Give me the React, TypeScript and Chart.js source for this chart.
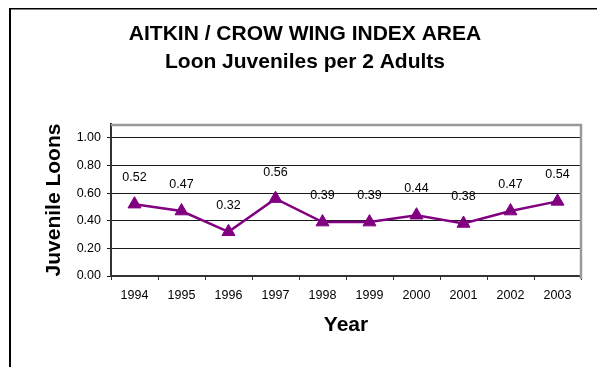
import React, { useEffect, useRef } from "react";
import { Chart, registerables } from "chart.js";

Chart.register(...registerables);

// Survey years and juvenile loons per two adults
const years: string[] = ["1994", "1995", "1996", "1997", "1998", "1999", "2000", "2001", "2002", "2003"];
const juvenilesPerPair: number[] = [0.52, 0.47, 0.32, 0.56, 0.39, 0.39, 0.44, 0.38, 0.47, 0.54];

const titleLines: string[] = ["AITKIN / CROW WING INDEX AREA", "Loon Juveniles per 2 Adults"];
const yAxisTitle = "Juvenile Loons";
const xAxisTitle = "Year";

const FONT = '"Liberation Sans", Arial, Helvetica, sans-serif';
const LINE_COLOR = "#800080";

// Frame around the chart and the two-line heading
const framePlugin = {
  id: "frameAndHeading",
  beforeDraw(chart: Chart) {
    const { ctx } = chart;
    ctx.save();
    ctx.fillStyle = "#ffffff";
    ctx.fillRect(0, 0, chart.width, chart.height);
    ctx.fillStyle = "#000000";
    ctx.fillRect(9, 8, 2, chart.height);
    ctx.fillRect(9, 8, chart.width, 1.5);
    ctx.restore();
  },
  afterDraw(chart: Chart) {
    const { ctx } = chart;
    ctx.save();
    ctx.fillStyle = "#000000";
    ctx.font = `bold 21px ${FONT}`;
    ctx.textAlign = "center";
    ctx.textBaseline = "middle";
    ctx.fillText(titleLines[0], 305, 34);
    ctx.fillText(titleLines[1], 305, 62);
    ctx.restore();
  },
};

// Grey plot-area border on the top and right sides
const plotBorderPlugin = {
  id: "plotBorder",
  beforeDatasetsDraw(chart: Chart) {
    const { ctx, chartArea } = chart;
    ctx.save();
    ctx.strokeStyle = "#9a9a9a";
    ctx.lineWidth = 2.5;
    ctx.beginPath();
    ctx.moveTo(chartArea.left, chartArea.top + 1);
    ctx.lineTo(chartArea.right, chartArea.top + 1);
    ctx.lineTo(chartArea.right, chartArea.bottom + 3);
    ctx.stroke();
    ctx.restore();
  },
};

// Value labels above each marker
const valueLabelPlugin = {
  id: "valueLabels",
  afterDatasetsDraw(chart: Chart) {
    const { ctx } = chart;
    const meta = chart.getDatasetMeta(0);
    const values = chart.data.datasets[0].data as number[];
    ctx.save();
    ctx.fillStyle = "#000000";
    ctx.font = `12.5px ${FONT}`;
    ctx.textAlign = "center";
    ctx.textBaseline = "middle";
    meta.data.forEach((pt, i) => {
      ctx.fillText(values[i].toFixed(2), pt.x, pt.y - 26.5);
    });
    ctx.restore();
  },
};

export default function App() {
  const canvasRef = useRef<HTMLCanvasElement | null>(null);

  useEffect(() => {
    if (!canvasRef.current) return;
    const chart = new Chart(canvasRef.current, {
      type: "line",
      data: {
        labels: years,
        datasets: [
          {
            data: juvenilesPerPair,
            borderColor: LINE_COLOR,
            backgroundColor: LINE_COLOR,
            borderWidth: 2.5,
            pointStyle: "triangle",
            pointRadius: 7.5,
            pointBorderWidth: 1,
            pointBorderColor: LINE_COLOR,
            pointBackgroundColor: LINE_COLOR,
            tension: 0,
            fill: false,
          },
        ],
      },
      options: {
        responsive: false,
        animation: false,
        devicePixelRatio: 1,
        layout: { padding: { left: 0, top: 124, right: 16, bottom: 0 } },
        plugins: {
          legend: { display: false },
          title: { display: false },
          tooltip: { enabled: false },
        },
        scales: {
          x: {
            type: "category",
            offset: true,
            afterFit(scale: any) {
              scale.height = 91;
            },
            grid: {
              offset: true,
              drawOnChartArea: false,
              drawTicks: true,
              tickLength: 4,
              color: "#333333",
              lineWidth: 1,
            },
            border: { display: true, color: "#333333", width: 2 },
            ticks: {
              color: "#000000",
              font: { family: FONT, size: 12.5 },
              padding: 8,
              maxRotation: 0,
              autoSkip: false,
            },
            title: {
              display: true,
              text: xAxisTitle,
              color: "#000000",
              font: { family: FONT, size: 21, weight: "bold" },
              padding: { top: 0, bottom: 29 },
            },
          },
          y: {
            type: "linear",
            min: 0,
            max: 1.1,
            afterFit(scale: any) {
              scale.width = 111;
            },
            grid: {
              drawOnChartArea: true,
              drawTicks: true,
              tickLength: 4,
              color: "#1a1a1a",
              lineWidth: 1,
            },
            border: { display: true, color: "#333333", width: 2 },
            ticks: {
              stepSize: 0.2,
              includeBounds: false,
              color: "#000000",
              font: { family: FONT, size: 12.5 },
              padding: 6,
              callback: (v: any) => Number(v).toFixed(2),
            },
            title: {
              display: true,
              text: yAxisTitle,
              color: "#000000",
              font: { family: FONT, size: 21, weight: "bold" },
              padding: { top: 42, bottom: 0 },
            },
          },
        },
      },
      plugins: [framePlugin, plotBorderPlugin, valueLabelPlugin],
    });
    return () => chart.destroy();
  }, []);

  return (
    <div style={{ position: "fixed", left: 0, top: 0, width: 597, height: 367, background: "#fff" }}>
      <canvas ref={canvasRef} width={597} height={367} style={{ width: 597, height: 367, display: "block" }} />
    </div>
  );
}
